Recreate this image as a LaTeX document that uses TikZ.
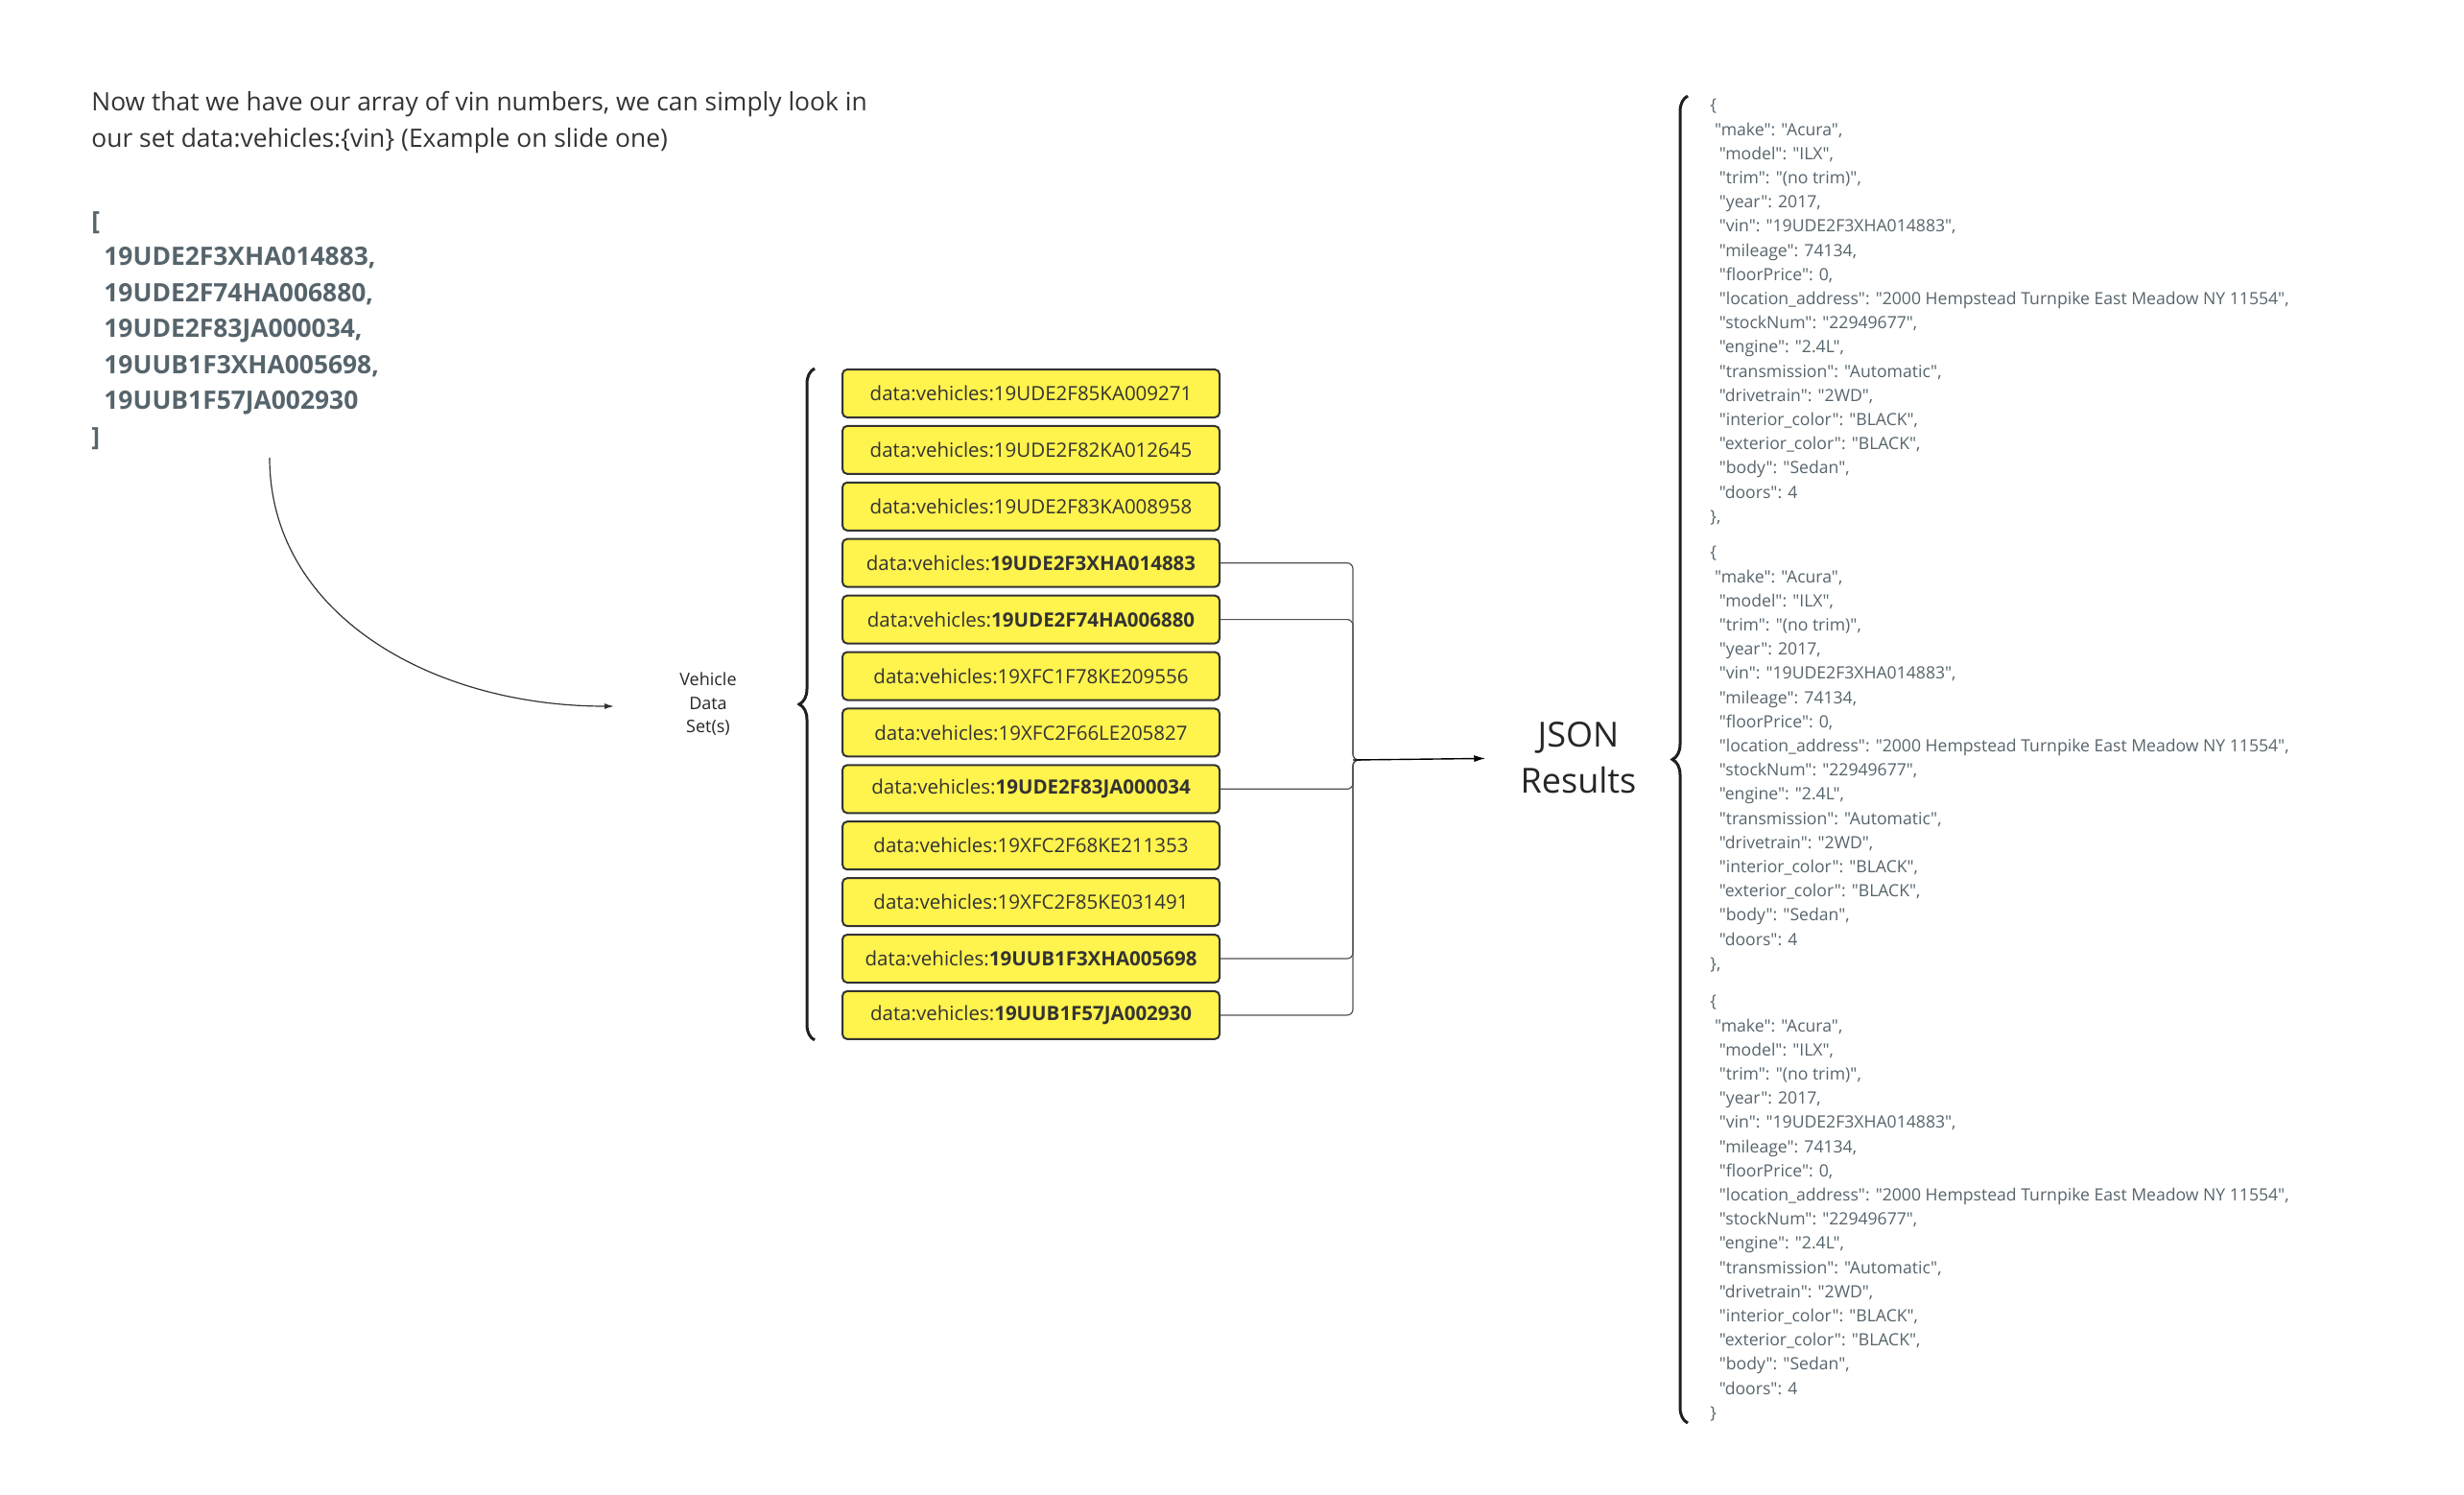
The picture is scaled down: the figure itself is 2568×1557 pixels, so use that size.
\documentclass[tikz,border=0pt]{standalone}
\usepackage{fontspec}
\setmainfont{Open Sans}[Ligatures=TeXOff]
\usetikzlibrary{positioning,decorations.pathreplacing,arrows.meta}

\definecolor{ink}{HTML}{333333}
\definecolor{slate}{HTML}{56646C}
\definecolor{keyfill}{HTML}{FFF34D}

% one vehicle record of the json output
\newcommand{\jsonrecord}[1]{\{\\
\hspace*{2.4pt}"make": "Acura",\\
\hspace*{4.7pt}"model": "ILX",\\
\hspace*{4.7pt}"trim": "(no trim)",\\
\hspace*{4.7pt}"year": 2017,\\
\hspace*{4.7pt}"vin": "19UDE2F3XHA014883",\\
\hspace*{4.7pt}"mileage": 74134,\\
\hspace*{4.7pt}"floorPrice": 0,\\
\hspace*{4.7pt}"location\_address": "2000 Hempstead Turnpike East Meadow NY 11554",\\
\hspace*{4.7pt}"stockNum": "22949677",\\
\hspace*{4.7pt}"engine": "2.4L",\\
\hspace*{4.7pt}"transmission": "Automatic",\\
\hspace*{4.7pt}"drivetrain": "2WD",\\
\hspace*{4.7pt}"interior\_color": "BLACK",\\
\hspace*{4.7pt}"exterior\_color": "BLACK",\\
\hspace*{4.7pt}"body": "Sedan",\\
\hspace*{4.7pt}"doors": 4\\
\}#1}

\begin{document}
\begin{tikzpicture}
[x=0.5pt, y=-0.5pt, node distance=3.45pt,
key node/.style={rectangle, rounded corners=2.5pt, draw=ink, line width=1pt, fill=keyfill,
  text=ink, minimum width=196.5pt, minimum height=25pt, inner sep=0pt, font=\fontsize{10.25}{12}\selectfont},
json text/.style={anchor=north west, inner sep=0pt, align=left, text=slate, font=\fontsize{8.8}{12.6}\selectfont},
link/.style={draw=ink!85, line width=0.6pt, rounded corners=3pt},
brace line/.style={draw=black!88, line width=1.5pt, decorate, decoration={brace, amplitude=8pt}}]
\useasboundingbox (0,0) rectangle (2568,1557);

\node[anchor=north west, inner sep=0pt, align=left, text=ink, font=\fontsize{13.2}{19}\selectfont] (intro) at (95,95)
  {Now that we have our array of vin numbers, we can simply look in\\our set data:vehicles:\{vin\} (Example on slide one)};
\node[anchor=north west, inner sep=0pt, align=left, text=slate, font=\fontsize{13.2}{18.75}\selectfont\bfseries] (vins) at (95,220)
  {[\\\hspace*{6.5pt}19UDE2F3XHA014883,\\\hspace*{6.5pt}19UDE2F74HA006880,\\\hspace*{6.5pt}19UDE2F83JA000034,\\
   \hspace*{6.5pt}19UUB1F3XHA005698,\\\hspace*{6.5pt}19UUB1F57JA002930\\]};

\node[align=center, inner sep=0pt, text=black!85, font=\fontsize{9}{12.25}\selectfont] (sets) at (738,734) {Vehicle\\Data\\Set(s)};

\node[key node] (v1) at (1074.5,410) {data:vehicles:19UDE2F85KA009271};
\node[key node, below=of v1] (v2) {data:vehicles:19UDE2F82KA012645};
\node[key node, below=of v2] (v3) {data:vehicles:19UDE2F83KA008958};
\node[key node, below=of v3] (v4) {data:vehicles:\textbf{19UDE2F3XHA014883}};
\node[key node, below=of v4] (v5) {data:vehicles:\textbf{19UDE2F74HA006880}};
\node[key node, below=of v5] (v6) {data:vehicles:19XFC1F78KE209556};
\node[key node, below=of v6] (v7) {data:vehicles:19XFC2F66LE205827};
\node[key node, below=of v7] (v8) {data:vehicles:\textbf{19UDE2F83JA000034}};
\node[key node, below=of v8] (v9) {data:vehicles:19XFC2F68KE211353};
\node[key node, below=of v9] (v10) {data:vehicles:19XFC2F85KE031491};
\node[key node, below=of v10] (v11) {data:vehicles:\textbf{19UUB1F3XHA005698}};
\node[key node, below=of v11] (v12) {data:vehicles:\textbf{19UUB1F57JA002930}};

\node[align=center, inner sep=0pt, text=black!85, font=\fontsize{18}{24}\selectfont] (results) at (1645,790) {JSON\\Results};

\node[json text] (rec1) at (1782,103) {\jsonrecord{,}};
\node[json text] (rec2) at (1782,569) {\jsonrecord{,}};
\node[json text] (rec3) at (1782,1037) {\jsonrecord{}};

% braces
\draw[brace line] ([xshift=-14pt]v12.south west) -- ([xshift=-14pt]v1.north west);
\draw[brace line] (1759,1483) -- (1759,100);

% vin list to the data sets
\coordinate (curvestart) at (281,477);
\coordinate (curveend) at (640,736);
\draw[draw=ink, line width=0.6pt, -{Latex[length=5pt,width=3pt]}] (curvestart) .. controls (281,640) and (450,736) .. (curveend);

% matching keys to the results
\coordinate (hub) at (1410,792);
\draw[link] (v4.east) -| (hub) -- ([xshift=4pt]hub);
\draw[link] (v5.east) -| (hub) -- ([xshift=4pt]hub);
\draw[link] (v8.east) -| (hub) -- ([xshift=4pt]hub);
\draw[link] (v11.east) -| (hub) -- ([xshift=4pt]hub);
\draw[link] (v12.east) -| (hub) -- ([xshift=4pt]hub);
\draw[line width=0.7pt, -{Latex[length=6pt,width=3.5pt]}, shorten >=18pt] (hub) -- (results.west);
\end{tikzpicture}
\end{document}
